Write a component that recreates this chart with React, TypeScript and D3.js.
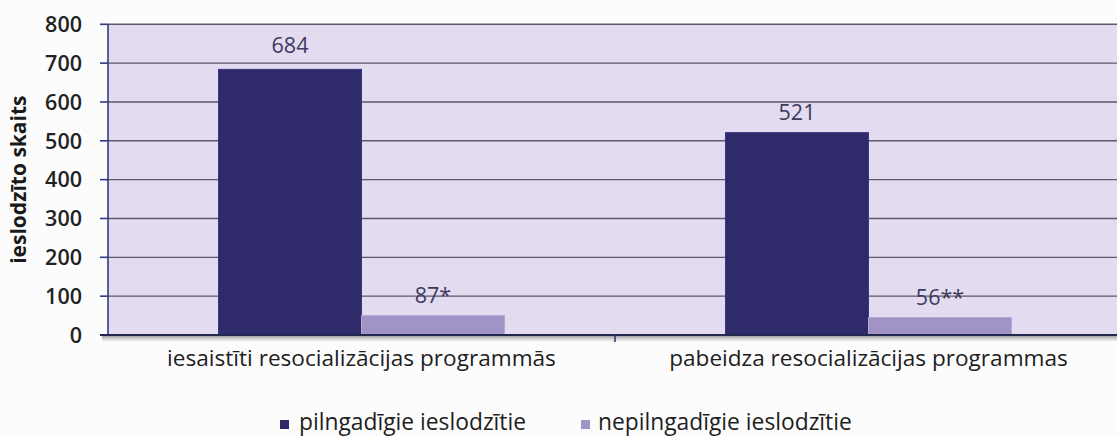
import React from "react";
import * as d3 from "d3";

const categories = [
  "iesaistīti resocializācijas programmās",
  "pabeidza resocializācijas programmas",
];
const seriesNames = ["pilngadīgie ieslodzītie", "nepilngadīgie ieslodzītie"];
const adultValues = [684, 521];
const juvenileValues = [50, 45];
const adultLabels = ["684", "521"];
const juvenileLabels = ["87*", "56**"];
const yTicks = [0, 100, 200, 300, 400, 500, 600, 700, 800];
const yTitle = "ieslodzīto skaits";

const W = 1117;
const H = 436;
const FONT = "'Open Sans', 'Noto Sans', sans-serif";
const colors = ["#2f2a6a", "#a193c6"];

export default function App() {
  const left = 108;
  const right = 1122;
  const top = 24.3;
  const bottom = 335;

  const x = d3
    .scaleBand<string>()
    .domain(categories)
    .range([left, right])
    .paddingInner(0.436)
    .paddingOuter(0.218);
  const sub = d3
    .scaleBand<number>()
    .domain([0, 1])
    .range([0, x.bandwidth()])
    .padding(0);
  const y = d3.scaleLinear().domain([0, 800]).range([bottom, top]);

  const series = [
    { values: adultValues, labels: adultLabels },
    { values: juvenileValues, labels: juvenileLabels },
  ];

  const step = x.step();

  return (
    <svg
      width={W}
      height={H}
      style={{ position: "absolute", left: 0, top: 0, background: "#fcfcfc" }}
    >
      <defs>
        <linearGradient id="shadow" x1="0" y1="0" x2="0" y2="1">
          <stop offset="0" stopColor="#555" stopOpacity="0.55" />
          <stop offset="1" stopColor="#888" stopOpacity="0" />
        </linearGradient>
      </defs>
      <rect x={left} y={top} width={W - left} height={bottom - top} fill="#e3dcf0" />
      {yTicks.map((t) => (
        <g key={t}>
          <line x1={left} x2={W} y1={y(t)} y2={y(t)} stroke="#5c5a62" strokeWidth={1.4} />
          <line x1={left - 8} x2={left} y1={y(t)} y2={y(t)} stroke="#2f3b82" strokeWidth={1.6} />
          <text
            x={82}
            y={y(t)}
            dy="0.36em"
            textAnchor="end"
            fontFamily={FONT}
            fontSize={21.5}
            fontWeight={600}
            fill="#222"
          >
            {t}
          </text>
        </g>
      ))}
      {categories.map((c, ci) =>
        series.map((s, si) => {
          const bx = (x(c) as number) + (sub(si) as number);
          const by = y(s.values[ci]);
          return (
            <g key={c + si}>
              <rect
                x={bx}
                y={by}
                width={sub.bandwidth()}
                height={bottom - by}
                fill={colors[si]}
                stroke={si === 0 ? "#3a3580" : "#b3a7d3"}
                strokeWidth={1}
              />
              <text
                x={bx + sub.bandwidth() / 2}
                y={by - (si === 0 && ci === 0 ? 16 : 13)}
                textAnchor="middle"
                fontFamily={FONT}
                fontSize={21.5}
                fill="#3d3a5e"
              >
                {s.labels[ci]}
              </text>
            </g>
          );
        })
      )}
      <rect x={left - 6} y={bottom + 1} width={W - left + 6} height={6} fill="url(#shadow)" />
      <line x1={left} x2={left} y1={top} y2={bottom} stroke="#2f3b82" strokeWidth={1.6} />
      <line x1={left - 8} x2={W} y1={bottom} y2={bottom} stroke="#23284f" strokeWidth={2.2} />
      {categories.map((c, i) =>
        i > 0 ? (
          <line
            key={"t" + c}
            x1={(x(c) as number) - step * 0.218}
            x2={(x(c) as number) - step * 0.218}
            y1={bottom}
            y2={bottom + 7}
            stroke="#2f3b82"
            strokeWidth={1.6}
          />
        ) : null
      )}
      {categories.map((c) => (
        <text
          key={c}
          x={(x(c) as number) + x.bandwidth() / 2}
          y={366}
          textAnchor="middle"
          fontFamily={FONT}
          fontSize={22.6}
          fill="#1e1e1e"
        >
          {c}
        </text>
      ))}
      <text
        transform={`translate(26,${(top + bottom) / 2}) rotate(-90)`}
        textAnchor="middle"
        fontFamily={FONT}
        fontSize={21}
        fontWeight={700}
        fill="#1a1a1a"
      >
        {yTitle}
      </text>
      {[
        { x: 280, tx: 299 },
        { x: 581, tx: 598 },
      ].map((l, i) => (
        <g key={seriesNames[i]}>
          <rect x={l.x} y={420} width={9} height={9} fill={colors[i]} />
          <text x={l.tx} y={430} fontFamily={FONT} fontSize={22.8} fill="#1e1e1e">
            {seriesNames[i]}
          </text>
        </g>
      ))}
    </svg>
  );
}
